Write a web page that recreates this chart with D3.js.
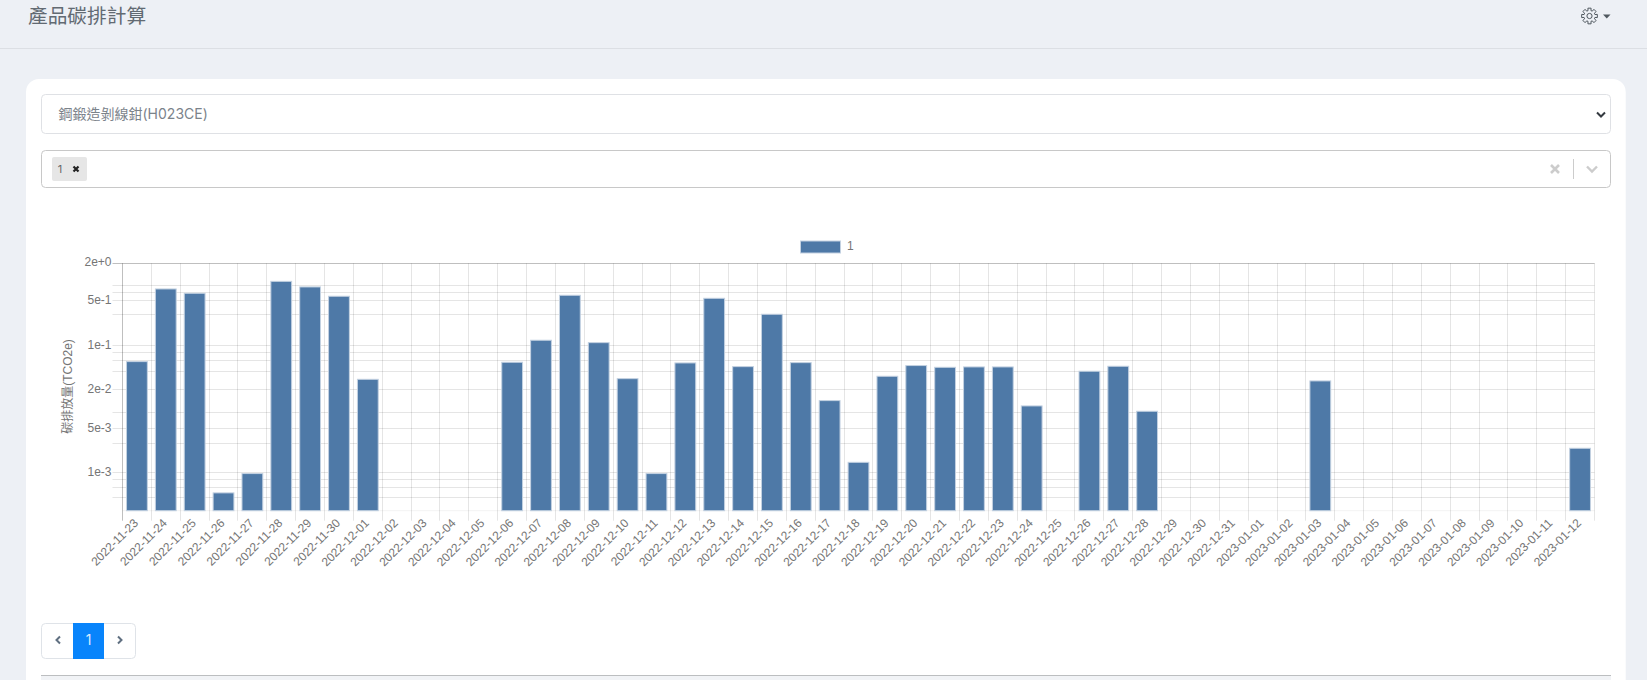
<!DOCTYPE html>
<html><head><meta charset="utf-8">
<style>
html,body{margin:0;padding:0;background:#edf0f5;overflow:hidden}
svg{display:block}
text{font-family:"Liberation Sans","Noto Sans CJK TC",sans-serif}
.ui{font-family:"Inter","Noto Sans CJK TC",sans-serif}
</style>
<script src="https://cdn.jsdelivr.net/npm/d3@7/dist/d3.min.js"></script>
</head><body><div id="root"></div>
<script>
const pageTitle = "產品碳排計算";
const productName = "鋼鍛造剝線鉗(H023CE)";
const seriesName = "1";
const yTitle = "碳排放量(TCO2e)";
const dates = ["2022-11-23","2022-11-24","2022-11-25","2022-11-26","2022-11-27","2022-11-28","2022-11-29","2022-11-30","2022-12-01","2022-12-02","2022-12-03","2022-12-04","2022-12-05","2022-12-06","2022-12-07","2022-12-08","2022-12-09","2022-12-10","2022-12-11","2022-12-12","2022-12-13","2022-12-14","2022-12-15","2022-12-16","2022-12-17","2022-12-18","2022-12-19","2022-12-20","2022-12-21","2022-12-22","2022-12-23","2022-12-24","2022-12-25","2022-12-26","2022-12-27","2022-12-28","2022-12-29","2022-12-30","2022-12-31","2023-01-01","2023-01-02","2023-01-03","2023-01-04","2023-01-05","2023-01-06","2023-01-07","2023-01-08","2023-01-09","2023-01-10","2023-01-11","2023-01-12"];
const values = [0.0554,0.767,0.656,4.8e-4,9.65e-4,1.01,0.825,0.589,0.0292,null,null,null,null,0.0541,0.120,0.61,0.110,0.0299,9.65e-4,0.0528,0.547,0.0462,0.307,0.0534,0.01352,1.45e-3,0.0326,0.048,0.0451,0.0457,0.0457,0.01115,null,0.0391,0.0468,0.00919,null,null,null,null,null,0.02754,null,null,null,null,null,null,null,null,2.41e-3];
const yTicks = [2,0.5,0.1,0.02,0.005,0.001];
const yGrid = [2,0.875,0.68,0.5,0.3,0.1,0.078,0.058,0.039,0.02,0.00875,0.005,0.0029,0.001,7.9e-4,5.9e-4,4e-4];
const yDomain = [2.52e-4,1.94];

const svg = d3.select("#root").append("svg").attr("width",1647).attr("height",680);

/* ---- page furniture ---- */
svg.append("rect").attr("width",1647).attr("height",680).attr("fill","#edf0f5");
svg.append("line").attr("x1",0).attr("x2",1647).attr("y1",48.5).attr("y2",48.5).attr("stroke","#dcdfe4");
svg.append("text").attr("class","ui").attr("x",28).attr("y",23).attr("font-size",19.7).attr("fill","#626a72").text(pageTitle);

const gear = svg.append("g").attr("transform","translate(1589.5,16)").attr("fill","none").attr("stroke","#50585f").attr("stroke-width",1);
const gearPts=[];for(let i=0;i<8;i++){const a=i*Math.PI/4;[[-.26,5.6],[-.2,8],[.2,8],[.26,5.6]].forEach(([o,r])=>gearPts.push([r*Math.cos(a+o),r*Math.sin(a+o)]));}
gear.append("path").attr("d",d3.line().curve(d3.curveLinearClosed)(gearPts));
gear.append("circle").attr("r",2.6);
svg.append("path").attr("d","M1603 14.5h7.5l-3.75 4z").attr("fill","#50585f");

svg.append("rect").attr("x",26).attr("y",79).attr("width",1599.7).attr("height",640).attr("rx",13).attr("fill","#fff");

svg.append("rect").attr("x",41.5).attr("y",94.5).attr("width",1569).attr("height",39).attr("rx",4).attr("fill","#fff").attr("stroke","#dfe1e5");
svg.append("text").attr("class","ui").attr("x",58.5).attr("y",119).attr("font-size",14).attr("fill","#7b838b").text(productName);
svg.append("path").attr("d","M1597 112.5l4 4 4-4").attr("fill","none").attr("stroke","#343a40").attr("stroke-width",2);

svg.append("rect").attr("x",41.5).attr("y",150.5).attr("width",1569).attr("height",37).attr("rx",4).attr("fill","#fff").attr("stroke","#c8c8c8");
svg.append("rect").attr("x",52).attr("y",157).attr("width",35).attr("height",24).attr("rx",2).attr("fill","#e6e6e6");
svg.append("text").attr("class","ui").attr("x",60).attr("y",173).attr("text-anchor","middle").attr("font-size",11).attr("fill","#666").text(seriesName);
svg.append("path").attr("d","M73.5 166.5l5 5m0-5l-5 5").attr("stroke","#222").attr("stroke-width",2.2).attr("fill","none");
svg.append("path").attr("d","M1551 165l8 8m0-8l-8 8").attr("stroke","#ccc").attr("stroke-width",2.6).attr("fill","none");
svg.append("line").attr("x1",1573.5).attr("x2",1573.5).attr("y1",159).attr("y2",179).attr("stroke","#ccc");
svg.append("path").attr("d","M1587 166.5l5 5 5-5").attr("stroke","#ccc").attr("stroke-width",2.4).attr("fill","none");

svg.append("rect").attr("x",41.5).attr("y",623.5).attr("width",94).attr("height",35).attr("rx",4).attr("fill","#fff").attr("stroke","#dfe3e8");
svg.append("rect").attr("x",73).attr("y",623).attr("width",31).attr("height",36).attr("fill","#0884fb");
svg.append("text").attr("class","ui").attr("x",88.5).attr("y",645).attr("text-anchor","middle").attr("font-size",14).attr("fill","#dcecff").text("1");
svg.append("path").attr("d","M60 636.5l-3.5 3.5 3.5 3.5").attr("stroke","#5f6f80").attr("stroke-width",2).attr("fill","none");
svg.append("path").attr("d","M118 636.5l3.5 3.5-3.5 3.5").attr("stroke","#5f6f80").attr("stroke-width",2).attr("fill","none");

svg.append("rect").attr("x",41).attr("y",675).attr("width",1570).attr("height",5).attr("fill","#f1f3f6");
svg.append("line").attr("x1",41).attr("x2",1611).attr("y1",675.5).attr("y2",675.5).attr("stroke","#bcbec0");

/* ---- chart ---- */
const L=122.5,R=1594.5,T=263.3,B=510.7;
const x = d3.scaleBand().domain(dates).range([L,R]).padding(0);
const y = d3.scaleLog().domain(yDomain).range([B,T]).clamp(true);
const snap = v => Math.round(v-0.5)+0.5;
const gridC="rgba(0,0,0,0.1)", axisC="rgba(0,0,0,0.25)", textC="#757575";
const chart = svg.append("g");

// horizontal grid + y labels
const yAxis = d3.axisLeft(y).tickValues(yGrid).tickSizeOuter(0).tickSizeInner(10).tickPadding(1)
  .tickFormat(d => yTicks.includes(d) ? d.toExponential(0) : "");
const gy = chart.append("g").call(yAxis);
gy.select(".domain").remove();
gy.selectAll(".tick").attr("transform",d=>`translate(${L},${snap(y(d))})`);
gy.selectAll(".tick line").attr("x1",R-L).attr("x2",-10).attr("stroke",d=>d===2?axisC:gridC);
gy.selectAll(".tick text").attr("font-size",12).attr("fill",textC).attr("font-family",null).attr("dy",d=>d===2?".2em":".3em").attr("x",-11);

chart.append("line").attr("x1",L).attr("x2",R).attr("y1",B).attr("y2",B).attr("stroke","rgba(0,0,0,0.05)");

// vertical grid
const edges = dates.map(d=>x(d)).concat([R]);
chart.append("g").selectAll("line").data(edges).join("line")
  .attr("x1",d=>snap(d)).attr("x2",d=>snap(d)).attr("y1",T).attr("y2",B+10)
  .attr("stroke",(d,i)=>i===0?axisC:gridC);

// bars
chart.append("g").selectAll("rect").data(dates.map((d,i)=>({d,v:values[i]})).filter(o=>o.v!==null)).join("rect")
  .attr("x",o=>x(o.d)+x.bandwidth()/2-10.4).attr("width",20.8)
  .attr("y",o=>y(o.v)).attr("height",o=>B-y(o.v))
  .attr("fill","#4e79a7").attr("stroke","#c3d1e1").attr("stroke-width",1);

// x labels
const xAxis = d3.axisBottom(x).tickSize(0).tickPadding(0);
const gx = chart.append("g").attr("transform",`translate(0,${B})`).call(xAxis);
gx.select(".domain").remove();
gx.selectAll(".tick line").remove();
gx.selectAll(".tick text").attr("font-size",12).attr("fill",textC).attr("font-family",null)
  .attr("text-anchor","end").attr("dy",0).attr("y",0)
  .attr("transform","translate(2,13) rotate(-45)");

// y title
chart.append("text").attr("transform","translate(72,386.5) rotate(-90)").attr("text-anchor","middle").attr("font-size",12).attr("fill",textC).text(yTitle);

// legend
chart.append("rect").attr("x",800.5).attr("y",241).attr("width",40).attr("height",12).attr("fill","#4e79a7").attr("stroke","#c3d1e1");
chart.append("text").attr("x",847).attr("y",250).attr("font-size",12).attr("fill",textC).text(seriesName);
</script></body></html>
